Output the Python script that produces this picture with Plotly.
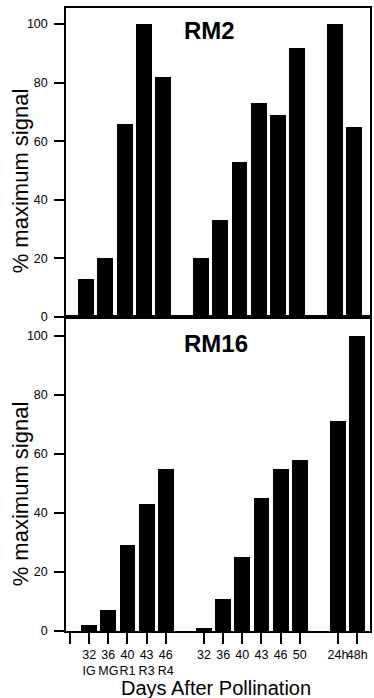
import plotly.graph_objects as go

# ---- data ----
positions = [1, 2, 3, 4, 5, 7, 8, 9, 10, 11, 12, 14, 15]
rm2_values = [13, 20, 66, 100, 82, 20, 33, 53, 73, 69, 92, 100, 65]
rm16_values = [2, 7, 29, 43, 55, 1, 11, 25, 45, 55, 58, 71, 100]
tick_positions = [0, 1, 2, 3, 4, 5, 7, 8, 9, 10, 11, 12, 14, 15]
tick_labels = ["", "32<br>IG", "36<br>MG", "40<br>R1", "43<br>R3", "46<br>R4",
               "32", "36", "40", "43", "46", "50", "24h", "48h"]
y_ticks = [0, 20, 40, 60, 80, 100]

FONT = "Liberation Sans, Arial, sans-serif"
W, H = 374, 698
ML, MR, MT, MB = 66, 2, 8, 67
PW, PH = W - ML - MR, H - MT - MB

def px_x(x):
    return (x - ML) / PW

def px_y(y):
    return (H - MB - y) / PH

split = px_y(317)

fig = go.Figure()
fig.add_trace(go.Bar(x=positions, y=rm2_values, width=0.83,
                     marker=dict(color="black", line=dict(width=0)),
                     xaxis="x2", yaxis="y2", showlegend=False))
fig.add_trace(go.Bar(x=positions, y=rm16_values, width=0.83,
                     marker=dict(color="black", line=dict(width=0)),
                     xaxis="x", yaxis="y", showlegend=False))

axis_common = dict(showgrid=False, zeroline=False, showline=True, linecolor="black",
                   linewidth=1.5, mirror=True)

fig.update_layout(
    width=W, height=H,
    margin=dict(l=ML, r=MR, t=MT, b=MB),
    paper_bgcolor="white", plot_bgcolor="white",
    font=dict(family=FONT, color="black", size=12),
    bargap=0,
    xaxis=dict(**axis_common, domain=[0, 1], range=[-0.21, 15.67], anchor="y",
               tickmode="array", tickvals=tick_positions, ticktext=tick_labels,
               ticks="outside", ticklen=11, tickwidth=1.5, tickcolor="black",
               tickfont=dict(size=12.5, family=FONT), tickangle=0),
    yaxis=dict(**axis_common, domain=[0, split], range=[0, 106.4], anchor="x",
               tickmode="array", tickvals=y_ticks,
               ticks="outside", ticklen=10, tickwidth=1.5, tickcolor="black",
               tickfont=dict(size=12.5, family=FONT), ticklabelstandoff=4),
    xaxis2=dict(**axis_common, domain=[0, 1], range=[-0.06, 15.82], anchor="y2",
                showticklabels=False, ticks=""),
    yaxis2=dict(**axis_common, domain=[split, 1], range=[0, 105.5], anchor="x2",
                tickmode="array", tickvals=y_ticks,
                ticks="outside", ticklen=10, tickwidth=1.5, tickcolor="black",
                tickfont=dict(size=12.5, family=FONT), ticklabelstandoff=4),
)

annotations = [
    dict(text="<b>RM2</b>", x=px_x(210), y=px_y(31), font=dict(size=24, family=FONT)),
    dict(text="<b>RM16</b>", x=px_x(217), y=px_y(343), font=dict(size=24, family=FONT)),
    dict(text="% maximum signal", x=px_x(20), y=px_y(181), textangle=-90,
         font=dict(size=22, family=FONT)),
    dict(text="% maximum signal", x=px_x(20), y=px_y(494), textangle=-90,
         font=dict(size=22, family=FONT)),
    dict(text="Days After Pollination", x=px_x(217), y=px_y(688),
         font=dict(size=20, family=FONT)),
]
for a in annotations:
    fig.add_annotation(xref="paper", yref="paper", showarrow=False,
                       xanchor="center", yanchor="middle", **a)

fig.write_html("out.html", config={"displayModeBar": False},
               post_script="document.body.style.margin='0';document.body.style.overflow='hidden';")
